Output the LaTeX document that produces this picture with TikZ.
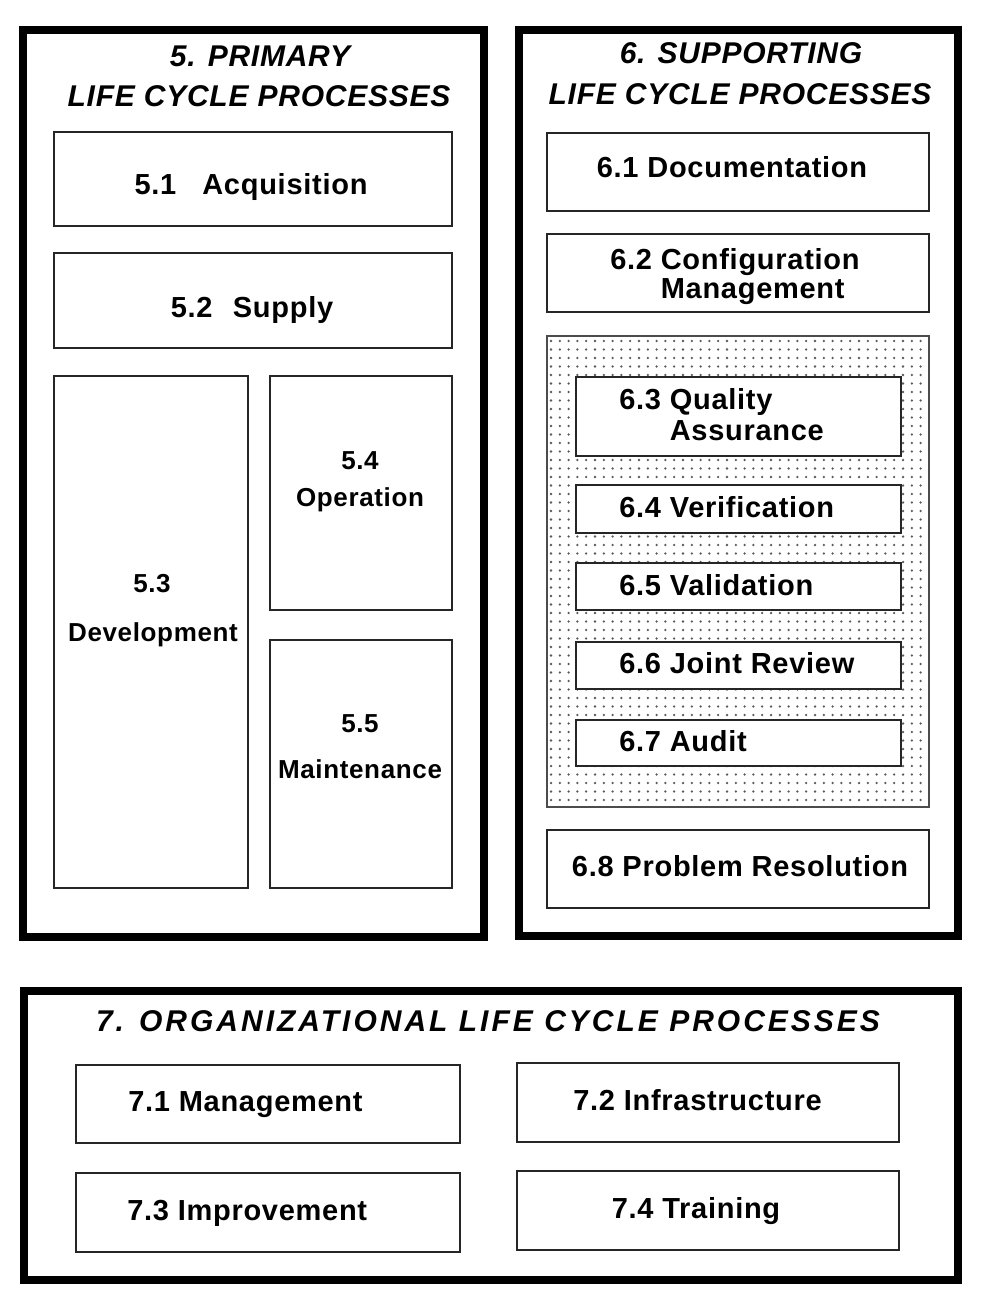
\documentclass[tikz,border=0pt]{standalone}
\usepackage{fontspec}
\setmainfont{Liberation Sans}[LetterSpace=2.5]
\newfontfamily\widetitle{Liberation Sans}[LetterSpace=10]
\usetikzlibrary{fit}
\begin{document}
\begin{tikzpicture}[x=0.75pt,y=-0.75pt,
  frame/.style={draw=black,line width=6pt},
  pbox/.style={draw=black!85,line width=1.3pt,fill=white,inner sep=0pt,fit={#1}},
  ttl/.style={font=\fontsize{22.5}{26}\selectfont\bfseries\itshape,inner sep=0pt},
  ttlw/.style={font=\widetitle\fontsize{22.5}{26}\selectfont\bfseries\itshape,inner sep=0pt},
  txt/.style={font=\fontsize{21.75}{25}\selectfont\bfseries,inner sep=0pt},
  stxt/.style={font=\fontsize{19.5}{23}\selectfont\bfseries,inner sep=0pt},
  dotc/.style={fill=black!65},
]
\useasboundingbox (0,0) rectangle (982,1302);

% heavy group frames
\node[frame,inner sep=0pt,fit={(23,30) (484,937)}] (g5) {};
\node[frame,inner sep=0pt,fit={(519,30) (958,936)}] (g6) {};
\node[frame,inner sep=0pt,fit={(24,991) (958,1280)}] (g7) {};

% group titles
\node[ttl,anchor=base] (h5a) at (260,67) {5. PRIMARY};
\node[ttl,anchor=base] (h5b) at (259,107) {LIFE CYCLE PROCESSES};
\node[ttl,anchor=base] (h6a) at (741,64) {6. SUPPORTING};
\node[ttl,anchor=base] (h6b) at (740,105) {LIFE CYCLE PROCESSES};
\node[ttlw,anchor=base] (h7) at (488,1031) {7. ORGANIZATIONAL LIFE CYCLE PROCESSES};

% primary processes
\node[pbox={(54,132) (452,226)}] (b51) {};
\node[pbox={(54,253) (452,348)}] (b52) {};
\node[pbox={(54,376) (248,888)}] (b53) {};
\node[pbox={(270,376) (452,610)}] (b54) {};
\node[pbox={(270,640) (452,888)}] (b55) {};
\node[txt,anchor=base] (t51) at (251,195) {5.1\hspace{0.9em}Acquisition};
\node[txt,anchor=base] (t52) at (252,317) {5.2\hspace{0.7em}Supply};
\node[stxt,anchor=base] (t53a) at (152,592) {5.3};
\node[stxt,anchor=base] (t53b) at (153,641) {Development};
\node[stxt,anchor=base] (t54a) at (360,469) {5.4};
\node[stxt,anchor=base] (t54b) at (360,506) {Operation};
\node[stxt,anchor=base] (t55a) at (360,732) {5.5};
\node[stxt,anchor=base] (t55b) at (360,778) {Maintenance};

% supporting processes
\node[pbox={(547,133) (929,211)}] (b61) {};
\node[pbox={(547,234) (929,312)}] (b62) {};
\node[draw=black!70,line width=0.8pt,fill=white,inner sep=0pt,fit={(547,336) (929,807)}] (qa) {};
\foreach \y in {341,349.5,...,804} {
  \foreach \x in {551,559.8,...,926} {
    \fill[dotc] (\x,\y) circle[radius=0.95pt];
  }
}
\node[pbox={(576,377) (901,456)}] (b63) {};
\node[pbox={(576,485) (901,533)}] (b64) {};
\node[pbox={(576,563) (901,610)}] (b65) {};
\node[pbox={(576,642) (901,689)}] (b66) {};
\node[pbox={(576,720) (901,766)}] (b67) {};
\node[pbox={(547,830) (929,908)}] (b68) {};
\node[txt,anchor=base] (t61) at (732,177) {6.1 Documentation};
\node[txt,anchor=base west] (t62a) at (610,269) {6.2 Configuration};
\node[txt,anchor=base west] (t62b) at (610,298) {\phantom{6.2 }Management};
\node[txt,anchor=base west] (t63a) at (619,409) {6.3 Quality};
\node[txt,anchor=base west] (t63b) at (619,440) {\phantom{6.3 }Assurance};
\node[txt,anchor=base west] (t64) at (619,517) {6.4 Verification};
\node[txt,anchor=base west] (t65) at (619,595) {6.5 Validation};
\node[txt,anchor=base west] (t66) at (619,673) {6.6 Joint Review};
\node[txt,anchor=base west] (t67) at (619,751) {6.7 Audit};
\node[txt,anchor=base] (t68) at (740,876) {6.8 Problem Resolution};

% organizational processes
\node[pbox={(76,1065) (460,1143)}] (b71) {};
\node[pbox={(517,1063) (899,1142)}] (b72) {};
\node[pbox={(76,1173) (460,1252)}] (b73) {};
\node[pbox={(517,1171) (899,1250)}] (b74) {};
\node[txt,anchor=base west] (t71) at (128,1111) {7.1 Management};
\node[txt,anchor=base west] (t72) at (573,1110) {7.2 Infrastructure};
\node[txt,anchor=base west] (t73) at (127,1220) {7.3 Improvement};
\node[txt,anchor=base] (t74) at (696,1218) {7.4 Training};
\end{tikzpicture}
\end{document}
